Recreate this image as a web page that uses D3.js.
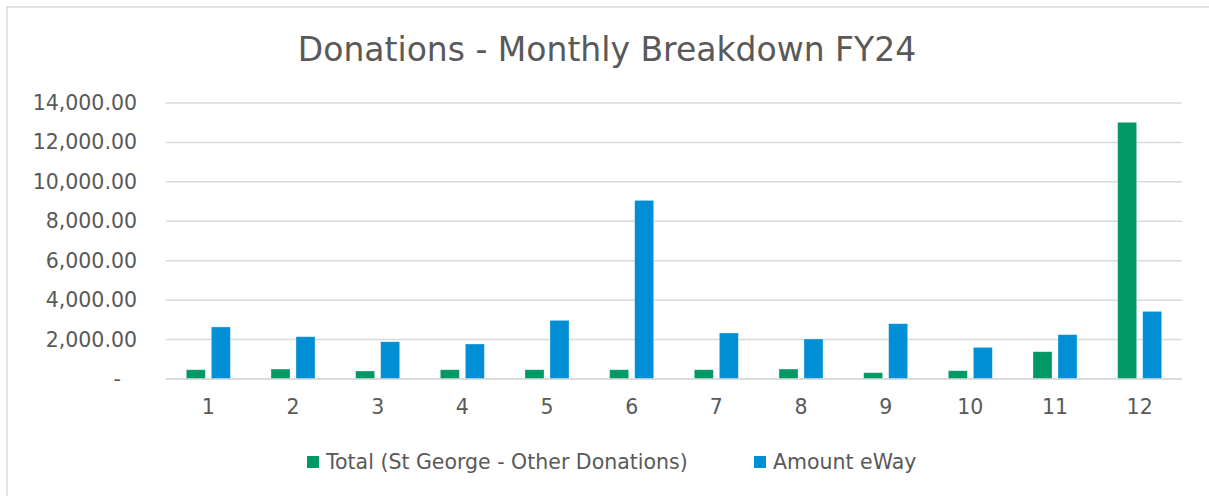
<!doctype html>
<html lang="en">
<head>
  <meta charset="utf-8">
  <style>
    body { margin: 0; background: #fff; }
    svg text { font-family: "DejaVu Sans", sans-serif; fill: #595959; }
  </style>
</head>
<body>
  <script src="https://d3js.org/d3.v7.min.js"></script>
  <div id="chart"></div>
  <script>
    // Data
    var months = ["1", "2", "3", "4", "5", "6", "7", "8", "9", "10", "11", "12"];
    var seriesNames = ["Total (St George - Other Donations)", "Amount eWay"];
    var stGeorge = [470, 505, 405, 470, 470, 470, 470, 505, 320, 420, 1385, 13020];
    var eWay = [2640, 2145, 1890, 1775, 2975, 9060, 2335, 2030, 2805, 1605, 2250, 3430];
    var yTicks = [0, 2000, 4000, 6000, 8000, 10000, 12000, 14000];
    var colors = ["#009966", "#008fd5"];

    var width = 1209, height = 496;
    var margin = {top: 103, right: 27, bottom: 117, left: 166};
    var pw = width - margin.left - margin.right,
        ph = height - margin.top - margin.bottom;

    var svg = d3.select("#chart").append("svg")
      .attr("width", width)
      .attr("height", height);

    // chart border
    svg.append("rect")
      .attr("x", 7).attr("y", 7)
      .attr("width", width).attr("height", height)
      .attr("fill", "none")
      .attr("stroke", "#d9d9d9")
      .attr("stroke-width", 1.5);

    svg.append("text")
      .attr("x", 607).attr("y", 61)
      .attr("text-anchor", "middle")
      .style("font-size", "33px")
      .text("Donations - Monthly Breakdown FY24");

    var g = svg.append("g")
      .attr("transform", "translate(" + margin.left + "," + margin.top + ")");

    var x = d3.scaleBand().domain(months).range([0, pw])
      .paddingInner(0.48).paddingOuter(0.24);
    var x1 = d3.scaleBand().domain([0, 1]).range([0, x.bandwidth()]).paddingInner(0.24);
    var y = d3.scaleLinear().domain([0, 14000]).range([ph, 0]);

    // gridlines
    g.append("g").selectAll("line").data(yTicks).enter()
      .append("line")
      .attr("x1", 0).attr("x2", pw)
      .attr("y1", d => y(d)).attr("y2", d => y(d))
      .attr("stroke", "#d9d9d9")
      .attr("stroke-width", 1.5);

    // y axis labels
    var yAxis = g.append("g")
      .call(d3.axisLeft(y).tickValues(yTicks).tickSize(0).tickPadding(29)
        .tickFormat(d => d === 0 ? "-" : d3.format(",.2f")(d)));
    yAxis.select(".domain").remove();
    yAxis.selectAll("text")
      .style("font-size", "20.5px")
      .attr("dx", d => d === 0 ? -16 : 0);

    // x axis labels
    var xAxis = g.append("g")
      .attr("transform", "translate(0," + ph + ")")
      .call(d3.axisBottom(x).tickSize(0).tickPadding(20));
    xAxis.select(".domain").remove();
    xAxis.selectAll("text").style("font-size", "20.5px");

    var rows = months.map((m, i) => ({m: m, v: [stGeorge[i], eWay[i]]}));

    var groups = g.append("g").selectAll("g").data(rows).enter()
      .append("g")
      .attr("transform", d => "translate(" + x(d.m) + ",0)");

    groups.selectAll("rect").data(d => d.v).enter()
      .append("rect")
      .attr("x", (d, i) => x1(i))
      .attr("y", d => y(d))
      .attr("width", x1.bandwidth())
      .attr("height", d => ph - y(d))
      .attr("fill", (d, i) => colors[i])
      .attr("stroke", "#ffffff")
      .attr("stroke-opacity", 0.4)
      .attr("stroke-width", 0.75);

    // baseline
    g.append("line")
      .attr("x1", 0).attr("x2", pw)
      .attr("y1", ph).attr("y2", ph)
      .attr("stroke", "#d9d9d9")
      .attr("stroke-width", 1.5);

    // legend
    var legendX = [307, 754];
    var legend = svg.append("g").selectAll("g").data(seriesNames).enter()
      .append("g")
      .attr("transform", (d, i) => "translate(" + legendX[i] + ",456)");
    legend.append("rect")
      .attr("width", 12).attr("height", 12)
      .attr("fill", (d, i) => colors[i]);
    legend.append("text")
      .attr("x", 19).attr("y", 12.5)
      .style("font-size", "20.5px")
      .text(d => d);
  </script>
</body>
</html>
